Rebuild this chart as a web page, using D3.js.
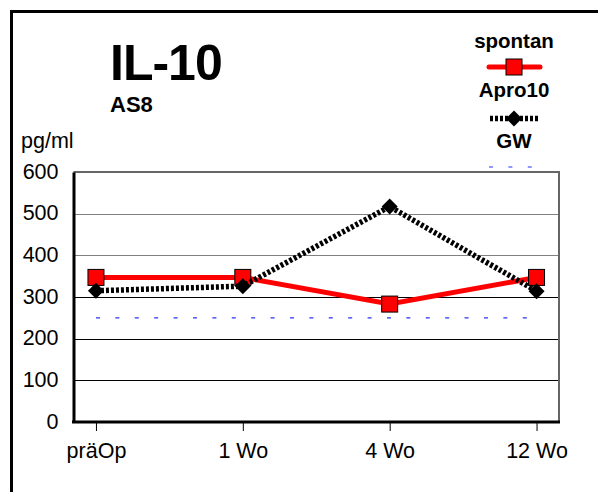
<!DOCTYPE html>
<html>
<head>
<meta charset="utf-8">
<script src="https://cdnjs.cloudflare.com/ajax/libs/d3/7.8.5/d3.min.js"></script>
<style>
  body { margin: 0; background: #fff; }
  svg { display: block; font-family: "Liberation Sans", Arial, sans-serif; }
</style>
</head>
<body>
<div id="chart"></div>
<script>
// chart data
var categories = ["präOp", "1 Wo", "4 Wo", "12 Wo"];
var spontan = [347, 347, 283, 347];
var apro10 = [315, 326, 517, 314];
var gw = [250, 250, 250, 250];
var yTicks = [0, 100, 200, 300, 400, 500, 600];

var width = 598, height = 492;
var plotLeft = 73.5, plotRight = 559, plotTop = 172, plotBottom = 422;
var fontSize = 21.5;

var svg = d3.select("#chart").append("svg")
    .attr("width", width)
    .attr("height", height);

svg.append("rect")
    .attr("width", width)
    .attr("height", height)
    .attr("fill", "#fff");

// outer frame (only left and top edges are in view)
svg.append("path")
    .attr("d", "M11.5," + height + "V11.5H" + width)
    .attr("fill", "none")
    .attr("stroke", "#000")
    .attr("stroke-width", 3);

var x = d3.scalePoint()
    .domain(categories)
    .range([plotLeft, plotRight])
    .padding(0.153);

var y = d3.scaleLinear()
    .domain([0, 600])
    .range([plotBottom, plotTop]);

// gridlines
svg.append("g")
    .selectAll("line")
    .data(yTicks.filter(function(d) { return d > 0 && d < 600; }))
    .join("line")
    .attr("x1", plotLeft)
    .attr("x2", plotRight)
    .attr("y1", function(d) { return Math.round(y(d)) + 0.5; })
    .attr("y2", function(d) { return Math.round(y(d)) + 0.5; })
    .attr("stroke", function(d) { return d >= 400 ? "#808080" : "#000"; })
    .attr("stroke-width", 1);

// plot box: top and right in gray
svg.append("path")
    .attr("d", "M" + plotLeft + "," + plotTop + "H" + plotRight + "V" + plotBottom)
    .attr("fill", "none")
    .attr("stroke", "#666")
    .attr("stroke-width", 2);

// y axis
var yAxis = svg.append("g")
    .attr("transform", "translate(" + plotLeft + ",0)")
    .call(d3.axisLeft(y).tickValues(yTicks).tickSize(0).tickPadding(15));
yAxis.select(".domain").attr("stroke", "#000").attr("stroke-width", 3);
yAxis.selectAll("text")
    .attr("font-size", fontSize)
    .attr("font-family", "Liberation Sans, Arial, sans-serif")
    .attr("fill", "#000")
    .attr("dy", "0.28em");

// x axis
var xAxis = svg.append("g")
    .attr("transform", "translate(0," + plotBottom + ")")
    .call(d3.axisBottom(x).tickSize(9).tickPadding(12).tickSizeOuter(0));
xAxis.select(".domain")
    .attr("d", "M" + (plotLeft - 1.5) + ",0H" + (plotRight + 1))
    .attr("stroke", "#000").attr("stroke-width", 3);
xAxis.selectAll(".tick line").attr("stroke", "#000").attr("stroke-width", 1);
xAxis.selectAll("text")
    .attr("font-size", fontSize)
    .attr("font-family", "Liberation Sans, Arial, sans-serif")
    .attr("fill", "#000");

// GW threshold line
var line = d3.line()
    .x(function(d, i) { return x(categories[i]); })
    .y(function(d) { return y(d); });

svg.append("path")
    .datum(gw)
    .attr("d", line)
    .attr("fill", "none")
    .attr("stroke", "#2233ff")
    .attr("stroke-width", 1.2)
    .attr("stroke-dasharray", "4,15.4");

// spontan series
svg.append("path")
    .datum(spontan)
    .attr("d", line)
    .attr("fill", "none")
    .attr("stroke", "#ff0000")
    .attr("stroke-width", 5);

svg.append("g")
    .selectAll("rect")
    .data(spontan)
    .join("rect")
    .attr("x", function(d, i) { return x(categories[i]) - 8; })
    .attr("y", function(d) { return y(d) - 8; })
    .attr("width", 16)
    .attr("height", 16)
    .attr("fill", "#ff0000")
    .attr("stroke", "#000")
    .attr("stroke-width", 1);

// Apro10 series
svg.append("path")
    .datum(apro10)
    .attr("d", line)
    .attr("fill", "none")
    .attr("stroke", "#000")
    .attr("stroke-width", 5.5)
    .attr("stroke-dasharray", "3,2");

var diamond = "M0,-8L8,0L0,8L-8,0Z";
svg.append("g")
    .selectAll("path")
    .data(apro10)
    .join("path")
    .attr("d", diamond)
    .attr("transform", function(d, i) { return "translate(" + x(categories[i]) + "," + y(d) + ")"; })
    .attr("fill", "#000");

// titles
svg.append("text")
    .attr("x", 110)
    .attr("y", 80)
    .attr("font-size", 50)
    .attr("font-weight", "bold")
    .attr("letter-spacing", -1)
    .text("IL-10");

svg.append("text")
    .attr("x", 110)
    .attr("y", 112)
    .attr("font-size", 22)
    .attr("font-weight", "bold")
    .text("AS8");

svg.append("text")
    .attr("x", 21)
    .attr("y", 148)
    .attr("font-size", fontSize)
    .text("pg/ml");

// legend
var lx = 514;
var legend = svg.append("g");
[["spontan", 48], ["Apro10", 97], ["GW", 148]].forEach(function(l) {
  legend.append("text")
      .attr("x", lx)
      .attr("y", l[1])
      .attr("text-anchor", "middle")
      .attr("font-size", 20.5)
      .attr("font-weight", "bold")
      .text(l[0]);
});

legend.append("line")
    .attr("x1", 489).attr("x2", 540)
    .attr("y1", 67).attr("y2", 67)
    .attr("stroke", "#ff0000").attr("stroke-width", 5)
    .attr("stroke-linecap", "round");
legend.append("rect")
    .attr("x", lx - 8).attr("y", 67 - 8)
    .attr("width", 16).attr("height", 16)
    .attr("fill", "#ff0000").attr("stroke", "#000");

legend.append("line")
    .attr("x1", 490).attr("x2", 539)
    .attr("y1", 118.5).attr("y2", 118.5)
    .attr("stroke", "#000").attr("stroke-width", 5.5)
    .attr("stroke-dasharray", "3,2");
legend.append("path")
    .attr("d", diamond)
    .attr("transform", "translate(" + lx + ",118.5)")
    .attr("fill", "#000");

legend.append("line")
    .attr("x1", 489).attr("x2", 533)
    .attr("y1", 167).attr("y2", 167)
    .attr("stroke", "#2233ff").attr("stroke-width", 1.2)
    .attr("stroke-dasharray", "4,15.4");
</script>
</body>
</html>
